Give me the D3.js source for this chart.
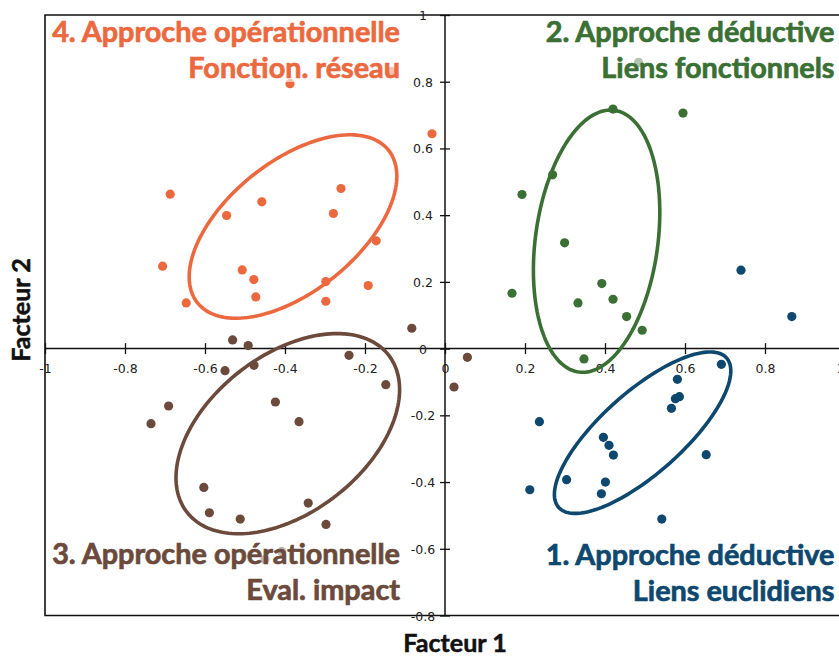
<!DOCTYPE html>
<html><head><meta charset="utf-8">
<script src="https://cdn.jsdelivr.net/npm/d3@7"></script>
<style>body{margin:0;background:#fff}svg{display:block}</style>
</head><body>
<svg id="c" width="839" height="657"></svg>
<script>
// ---- data ----
const orangeX = [-0.687,-0.458,-0.546,-0.260,-0.279,-0.172,-0.706,-0.507,-0.478,-0.298,-0.192,-0.473,-0.647,-0.298,-0.3875,-0.0325,-0.134];
const orangeY = [0.463,0.440,0.399,0.480,0.405,0.323,0.247,0.236,0.207,0.201,0.189,0.155,0.137,0.142,0.794,0.644,0.831];
const greenX = [0.42,0.595,0.269,0.1925,0.299,0.392,0.1675,0.3325,0.42,0.454,0.493,0.3475,0.484];
const greenY = [0.718,0.706,0.521,0.462,0.317,0.195,0.166,0.137,0.148,0.096,0.055,-0.031,0.858];
const brownX = [-0.531,-0.492,-0.4775,-0.55,-0.24,-0.148,-0.691,-0.735,-0.424,-0.365,-0.603,-0.589,-0.512,-0.342,-0.2975,-0.083,0.056,0.0225,-0.45,-0.408];
const brownY = [0.026,0.009,-0.050,-0.066,-0.020,-0.108,-0.172,-0.225,-0.160,-0.219,-0.416,-0.492,-0.511,-0.463,-0.527,0.061,-0.026,-0.115,-0.632,-0.608];
const blueX = [0.691,0.581,0.576,0.586,0.566,0.236,0.396,0.41,0.421,0.653,0.304,0.401,0.212,0.391,0.542,0.74,0.867];
const blueY = [-0.047,-0.092,-0.150,-0.144,-0.179,-0.219,-0.266,-0.290,-0.319,-0.318,-0.393,-0.400,-0.423,-0.435,-0.511,0.235,0.096];
// ellipses: [cx, cy, sdx, sdy, rho]
const orangeEllipse = [-0.38, 0.366, 0.2595, 0.2749, 0.549];
const greenEllipse  = [0.379, 0.322, 0.158, 0.393, 0.22];
const brownEllipse  = [-0.393, -0.255, 0.2795, 0.30, 0.44];
const blueEllipse   = [0.494, -0.252, 0.2205, 0.242, 0.765];
const xTicks = [-1,-0.8,-0.6,-0.4,-0.2,0,0.2,0.4,0.6,0.8,1];
const yTicks = [-0.8,-0.6,-0.4,-0.2,0,0.2,0.4,0.6,0.8,1];
const groupLabels = [
  ["4. Approche opérationnelle","Fonction. réseau"],
  ["2. Approche déductive","Liens fonctionnels"],
  ["3. Approche opérationnelle","Eval. impact"],
  ["1. Approche déductive","Liens euclidiens"]
];

// ---- chart ----
const svg = d3.select("#c");
const x = d3.scaleLinear().domain([-1,1]).range([45,845]);
const y = d3.scaleLinear().domain([-0.8,1]).range([615.5,15]);
const COL = {orange:"#EC6940", green:"#3A7034", brown:"#6B4A3C", blue:"#0E486E"};
const fmt = d => String(+d.toFixed(1));
const titleFont = "Lato, 'Open Sans', sans-serif";

// frame
svg.append("path").attr("d",`M${x(1)+5},${y(1)}H${x(-1)}V${y(-0.8)}H${x(1)+5}`)
  .attr("fill","none").attr("stroke","#111").attr("stroke-width",1.6);

// axes through origin
const gx = svg.append("g").attr("transform",`translate(0,${y(0)})`)
  .call(d3.axisBottom(x).tickValues(xTicks).tickFormat(fmt).tickSize(5.5).tickPadding(0));
gx.select(".domain").attr("d",`M${x(-1)},0H${x(1)+5}`).attr("stroke","#111").attr("stroke-width",1.5);
gx.selectAll(".tick line").attr("y1",-5.5).attr("y2",5.5).attr("stroke","#111").attr("stroke-width",1.3);
gx.selectAll(".tick text").attr("y",24).attr("dy",0).attr("font-family","'DejaVu Sans', sans-serif").attr("font-size",12.5).attr("fill","#222");
gx.selectAll(".tick").filter(d=>d===1).select("text").attr("x",-5);

const gy = svg.append("g").attr("transform",`translate(${x(0)},0)`)
  .call(d3.axisLeft(y).tickValues(yTicks).tickFormat(fmt).tickSize(5).tickPadding(0));
gy.select(".domain").attr("d",`M0,${y(1)}V${y(-0.8)}`).attr("stroke","#111").attr("stroke-width",1.5);
gy.selectAll(".tick line").attr("x1",-5).attr("x2",5).attr("stroke","#111").attr("stroke-width",1.3);
gy.selectAll(".tick text").attr("x",-22).attr("text-anchor","middle").attr("dy","0.36em")
  .attr("font-family","'DejaVu Sans', sans-serif").attr("font-size",12.5).attr("fill","#222");

// ellipses
function ellipsePath(e){
  const [cx,cy,sx,sy,r] = e;
  const pts = d3.range(0,361,2).map(a=>{
    const t = a*Math.PI/180;
    return [x(cx+sx*Math.cos(t)), y(cy+sy*(r*Math.cos(t)+Math.sqrt(1-r*r)*Math.sin(t)))];
  });
  return d3.line()(pts)+"Z";
}
const groups = [
  {xs:orangeX, ys:orangeY, e:orangeEllipse, c:COL.orange},
  {xs:greenX, ys:greenY, e:greenEllipse, c:COL.green},
  {xs:brownX, ys:brownY, e:brownEllipse, c:COL.brown},
  {xs:blueX, ys:blueY, e:blueEllipse, c:COL.blue}
];
groups.forEach(g=>{
  svg.append("path").attr("d",ellipsePath(g.e)).attr("fill","none").attr("stroke",g.c).attr("stroke-width",3.6);
  svg.append("g").selectAll("circle").data(g.xs.map((v,i)=>[v,g.ys[i]])).join("circle")
    .attr("cx",d=>x(d[0])).attr("cy",d=>y(d[1])).attr("r",4.6).attr("fill",g.c);
});

// group labels
const labelPos = [
  {ax:400, y1:42, c:COL.orange},
  {ax:834.5, y1:42, c:COL.green},
  {ax:400, y1:564, c:COL.brown},
  {ax:834.5, y1:565, c:COL.blue}
];
const probe = svg.append("text").attr("font-family",titleFont).attr("font-weight","bold").attr("font-size",100).text(groupLabels[0][0]);
const fs = 100*348/probe.node().getComputedTextLength();
probe.remove();
labelPos.forEach((p,i)=>{
  const g = svg.append("g");
  const rect = g.append("rect");
  const t = g.append("text").attr("font-family",titleFont).attr("font-weight","bold").attr("font-size",fs)
    .attr("fill",p.c).attr("stroke",p.c).attr("stroke-width",0.7).attr("text-anchor","end");
  t.append("tspan").attr("x",p.ax).attr("y",p.y1).text(groupLabels[i][0]);
  t.append("tspan").attr("x",p.ax).attr("y",p.y1+36).text(groupLabels[i][1]);
  const b = t.node().getBBox();
  rect.attr("x",b.x).attr("y",b.y+4).attr("width",b.width).attr("height",b.height-6).attr("fill","#fff").attr("opacity",0.6);
});

// axis titles
svg.append("text").attr("x",455).attr("y",652).attr("text-anchor","middle").attr("font-family",titleFont)
  .attr("font-weight","bold").attr("font-size",fs*0.87).attr("fill","#111").attr("stroke","#111").attr("stroke-width",0.5).text("Facteur 1");
svg.append("text").attr("transform","translate(30,310) rotate(-90)").attr("text-anchor","middle").attr("font-family",titleFont)
  .attr("font-weight","bold").attr("font-size",fs*0.87).attr("fill","#111").attr("stroke","#111").attr("stroke-width",0.5).text("Facteur 2");
</script>
</body></html>
